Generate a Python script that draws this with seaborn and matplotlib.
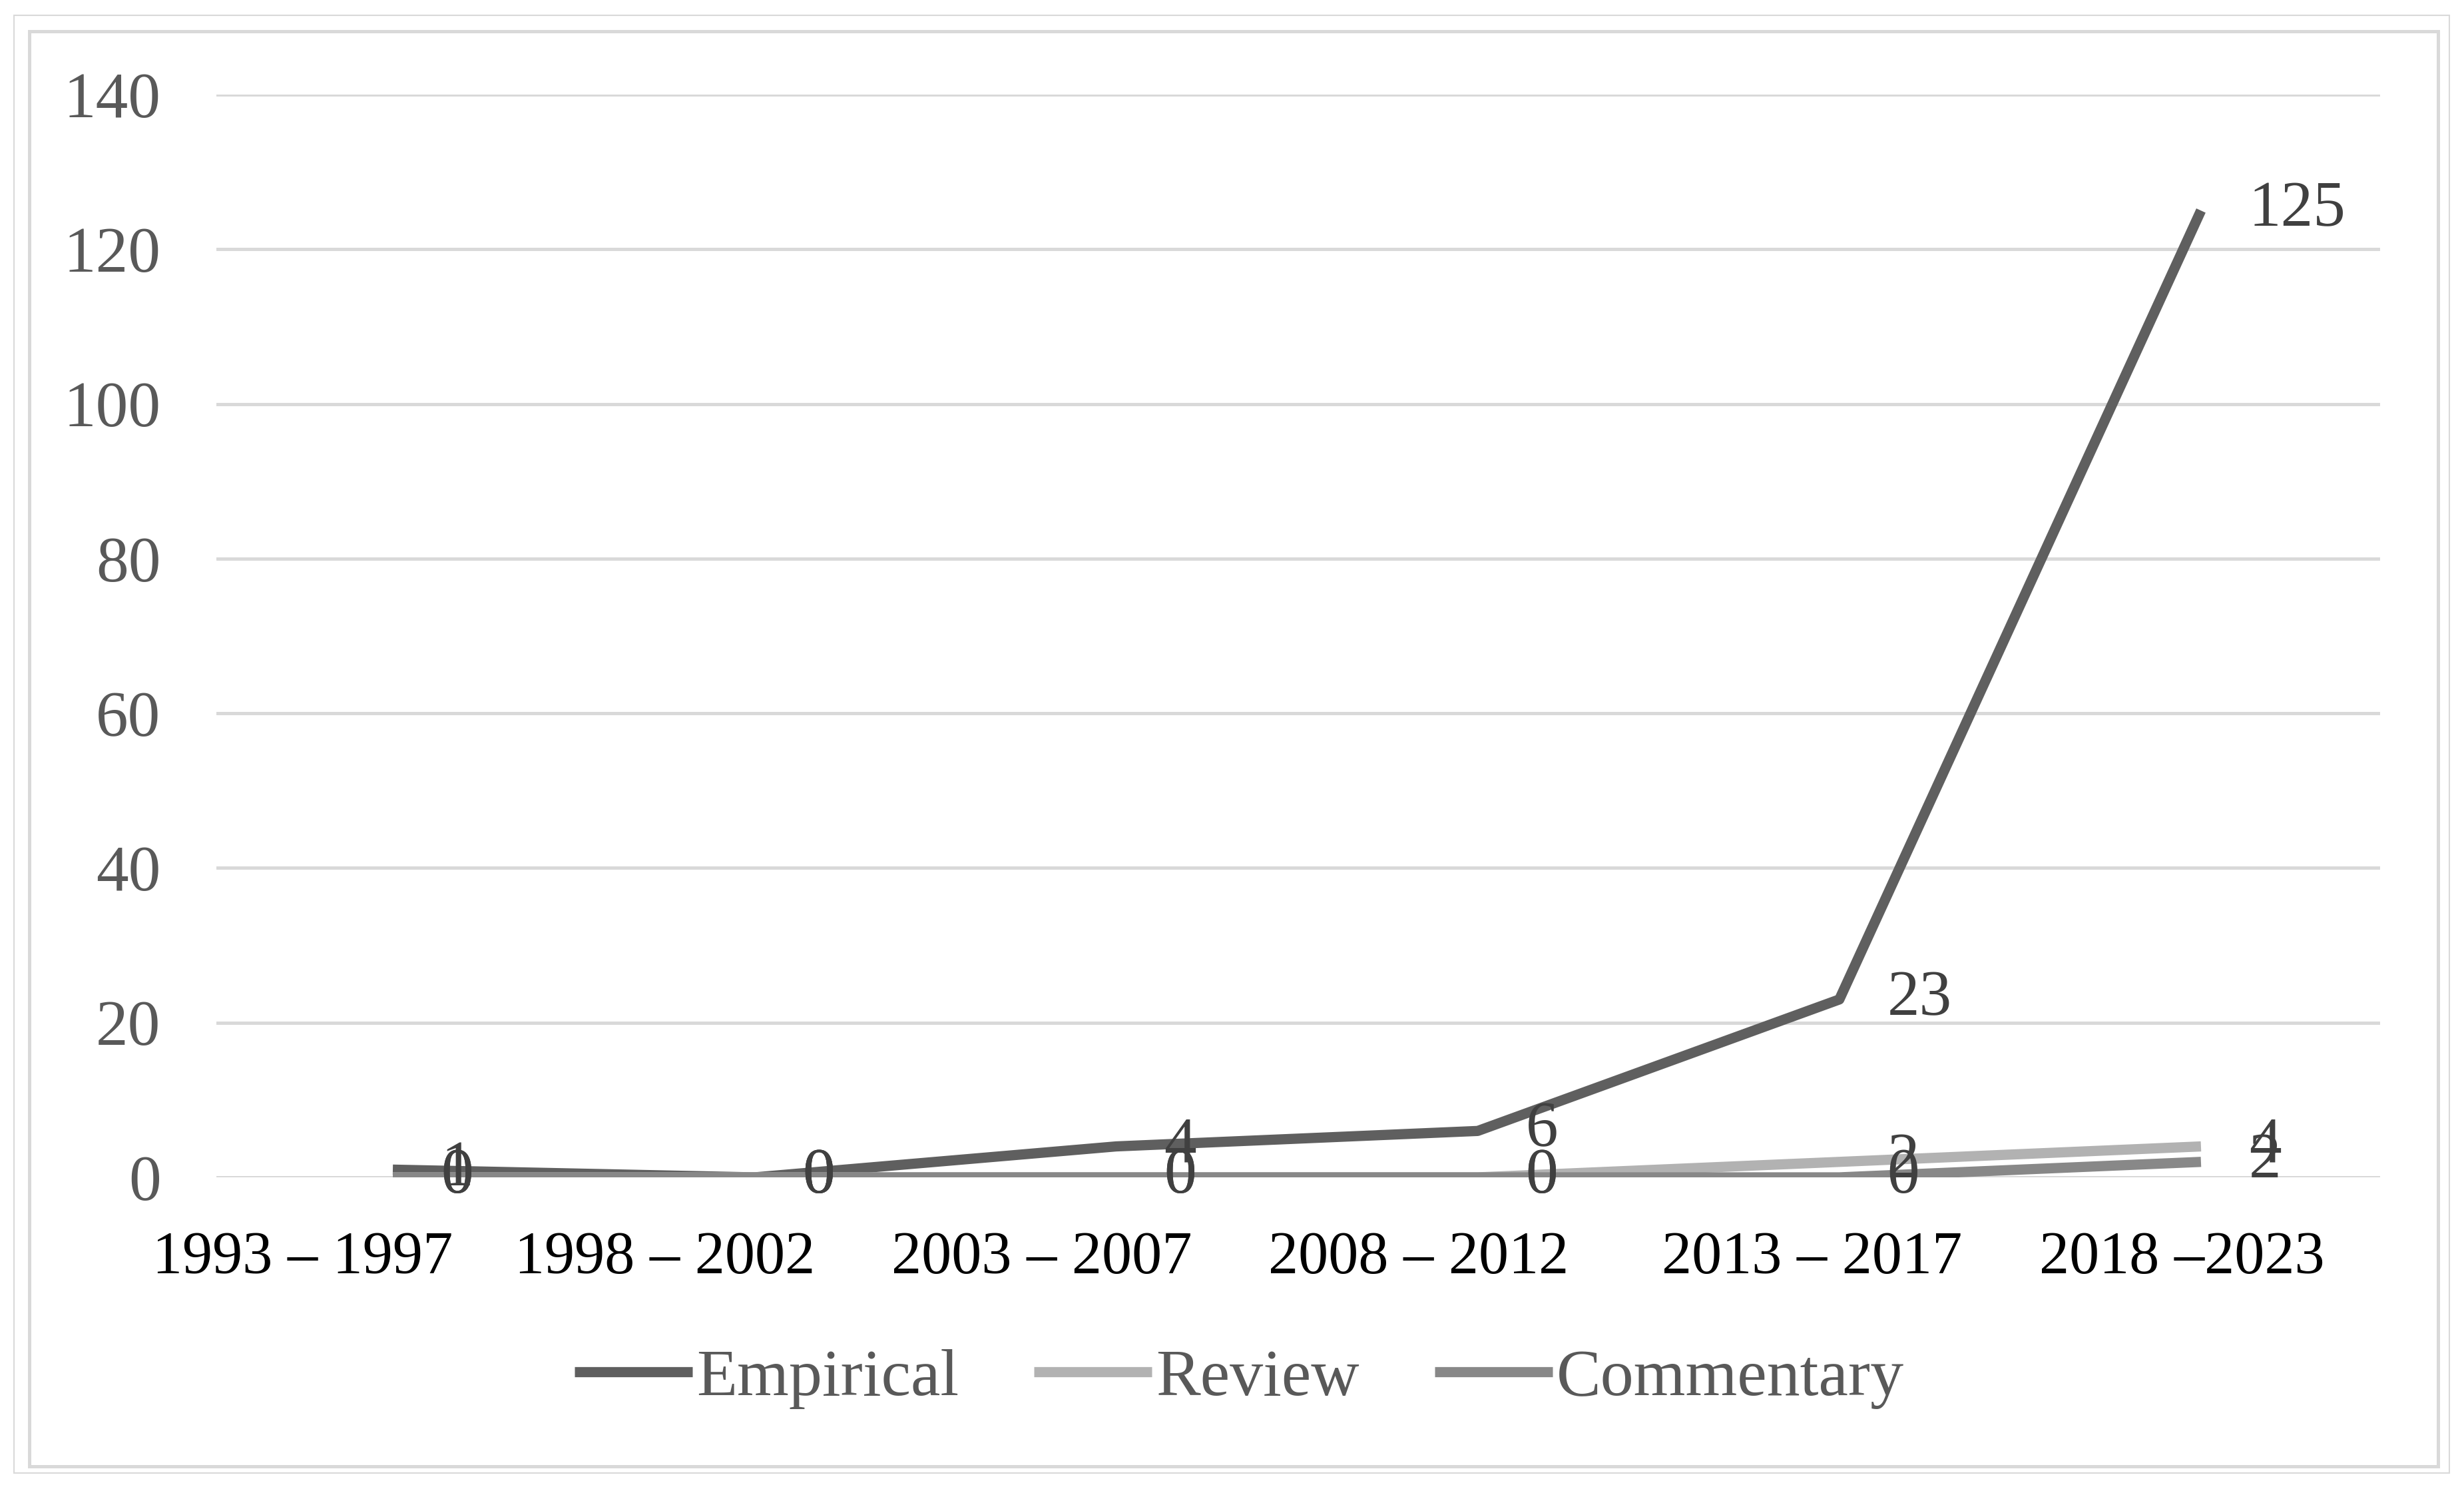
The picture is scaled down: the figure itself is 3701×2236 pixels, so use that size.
import matplotlib
matplotlib.use("Agg")
import matplotlib.pyplot as plt
import matplotlib.transforms as mtransforms
from matplotlib.patches import Rectangle
import seaborn as sns
import pandas as pd

# data
periods = ["1993 – 1997", "1998 – 2002", "2003 – 2007", "2008 – 2012", "2013 – 2017", "2018 –2023"]
empirical = [1, 0, 4, 6, 23, 125]
review = [0, 0, 0, 0, 2, 4]
commentary = [0, 0, 0, 0, 0, 2]
series_names = ["Empirical", "Review", "Commentary"]
colors = ["#5f5f5f", "#b2b2b2", "#888888"]
y_ticks = [0, 20, 40, 60, 80, 100, 120, 140]

df = pd.DataFrame({
    "period": periods * 3,
    "count": empirical + review + commentary,
    "type": [n for n in series_names for _ in periods],
})

sns.set_style("white")
plt.rcParams["font.family"] = ["Liberation Serif", "DejaVu Serif"]

DPI = 100
fig = plt.figure(figsize=(37.01, 22.36), dpi=DPI)
ax = fig.add_axes([0.0878, 0.2093, 0.8781, 0.7272])

sns.lineplot(data=df, x="period", y="count", hue="type", hue_order=series_names,
             palette=colors, sort=False, lw=11, solid_capstyle="butt", ax=ax)

ax.set_xlim(-0.488, 5.495)
ax.set_ylim(0, 140)
ax.set_yticks(y_ticks)
ax.yaxis.grid(True, color="#d9d9d9", lw=3.6)
ax.set_axisbelow(True)
for s in ax.spines.values():
    s.set_visible(False)
ax.set_xlabel("")
ax.set_ylabel("")
ax.tick_params(axis="y", length=0, pad=60, labelsize=70, labelcolor="#595959")
ax.tick_params(axis="x", length=0, pad=58, labelsize=65, labelcolor="#000000")

# category labels sit left of their points in the original
shifts = [-135, -135, -112, -89, -41, -29]
for lab, dx in zip(ax.get_xticklabels(), shifts):
    off = mtransforms.ScaledTranslation(dx / DPI, 0, fig.dpi_scale_trans)
    lab.set_transform(lab.get_transform() + off)

# data labels to the right of each point
for vals in [empirical, review, commentary]:
    for i, v in enumerate(vals):
        ax.annotate(str(v), (i, v), xytext=(72, 0), textcoords="offset pixels",
                    ha="left", va="center", fontsize=70, color="#404040")

handles, labels = ax.get_legend_handles_labels()
ax.legend(handles, labels, loc="center", bbox_to_anchor=(0.503, 0.0742),
          bbox_transform=fig.transFigure, ncol=3, frameon=False, fontsize=72,
          handlelength=1.77, handletextpad=0.06, columnspacing=1.13,
          labelcolor="#595959")

# chart frame
fig.patches.append(Rectangle((0.00567, 0.01073), 0.9884, 0.979, transform=fig.transFigure,
                             fill=False, ec="#d9d9d9", lw=1.5))
fig.patches.append(Rectangle((0.01189, 0.0152), 0.9776, 0.9638, transform=fig.transFigure,
                             fill=False, ec="#d9d9d9", lw=3.6))

fig.savefig("out.png", dpi=DPI, facecolor="white")
